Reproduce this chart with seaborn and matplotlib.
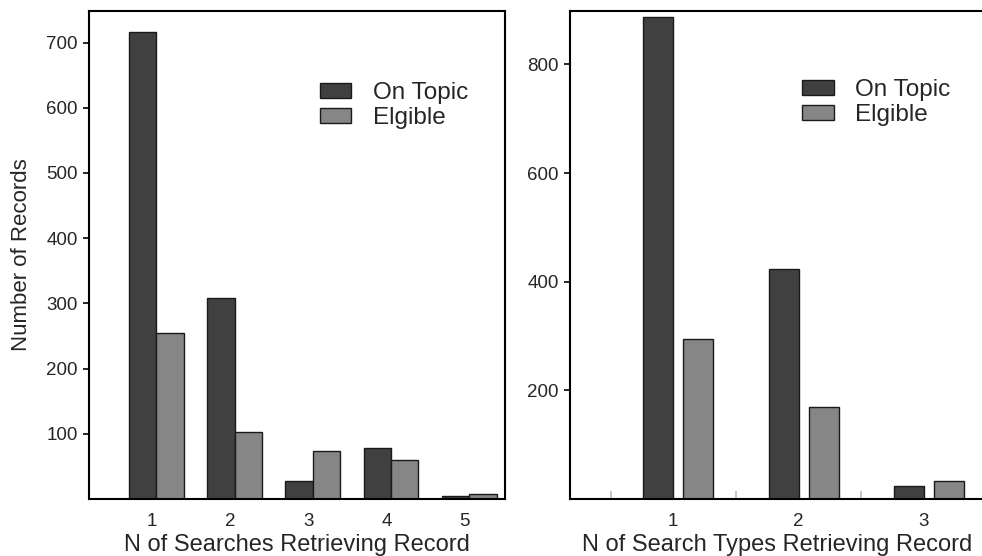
import matplotlib
matplotlib.use("Agg")
import matplotlib.pyplot as plt
import seaborn as sns
import pandas as pd

# ---- data ----
left_categories = ["1", "2", "3", "4", "5"]
left_on_topic = [716, 309, 28, 78, 5]
left_eligible = [255, 103, 74, 60, 8]

right_categories = ["1", "2", "3"]
right_on_topic = [888, 424, 24]
right_eligible = [294, 169, 33]

series_names = ["On Topic", "Elgible"]
left_yticks = [100, 200, 300, 400, 500, 600, 700]
right_yticks = [200, 400, 600, 800]
left_xlabel = "N of Searches Retrieving Record"
right_xlabel = "N of Search Types Retrieving Record"
ylabel = "Number of Records"

sns.set_style("white")
plt.rcParams["font.family"] = ["Liberation Sans", "DejaVu Sans"]

palette = {"On Topic": "#404040", "Elgible": "#868686"}
text_color = "#262626"


def make_df(cats, a, b):
    return pd.DataFrame({
        "cat": cats * 2,
        "value": a + b,
        "series": [series_names[0]] * len(cats) + [series_names[1]] * len(cats),
    })


fig = plt.figure(figsize=(9.82, 5.56), dpi=100)
axL = fig.add_axes([89 / 982, 57 / 556, 416 / 982, 488.4 / 556])
axR = fig.add_axes([570 / 982, 57 / 556, 415 / 982, 488.4 / 556])

sns.barplot(data=make_df(left_categories, left_on_topic, left_eligible),
            x="cat", y="value", hue="series", hue_order=series_names,
            palette=palette, width=0.70, gap=0, edgecolor="#1a1a1a",
            linewidth=1.0, saturation=1, ax=axL)
sns.barplot(data=make_df(right_categories, right_on_topic, right_eligible),
            x="cat", y="value", hue="series", hue_order=series_names,
            palette=palette, width=0.639, gap=0.25, edgecolor="#1a1a1a",
            linewidth=1.0, saturation=1, ax=axR)

axL.set_ylim(0, 749)
axL.set_xlim(-0.863, 4.458)
axR.set_ylim(0, 899)
axR.set_xlim(-0.865, 2.449)

axL.set_yticks(left_yticks)
axR.set_yticks(right_yticks)
axL.set_xticks([i - 0.06 for i in range(len(left_categories))])
axL.set_xticklabels(left_categories)
axR.set_xticks([i - 0.04 for i in range(len(right_categories))])
axR.set_xticklabels(right_categories)
axR.set_xticks([i - 0.54 for i in range(len(right_categories))], minor=True)

for ax in (axL, axR):
    for s in ax.spines.values():
        s.set_visible(True)
        s.set_color("black")
        s.set_linewidth(1.5)
    ax.tick_params(axis="y", which="major", direction="out", length=4,
                   width=1.2, color="black", labelsize=13.5, pad=4,
                   labelcolor=text_color, left=True)
    ax.tick_params(axis="x", which="major", length=0, labelsize=13.5, pad=10,
                   labelcolor=text_color)
    ax.set_ylabel("")
    old = ax.get_legend()
    handles = old.legend_handles
    labels = [t.get_text() for t in old.get_texts()]
    old.remove()
    ax._hl = (handles, labels)

axR.tick_params(axis="x", which="minor", direction="in", length=6, width=1.1,
                color="#b5b5b5", bottom=True)

axL.set_xlabel(left_xlabel, fontsize=17, color=text_color, labelpad=3)
axR.set_xlabel(right_xlabel, fontsize=17, color=text_color, labelpad=3)
axL.set_ylabel(ylabel, fontsize=16, color=text_color, labelpad=10)

for ax, anchor in ((axL, (0.555, 0.854)), (axR, (0.559, 0.86))):
    handles, labels = ax._hl
    leg = ax.legend(handles, labels, loc="upper left", bbox_to_anchor=anchor,
                    frameon=False, fontsize=17.5, handlelength=1.3,
                    handleheight=0.58, handletextpad=0.9, labelspacing=0.12,
                    borderpad=0, borderaxespad=0)
    for t in leg.get_texts():
        t.set_color(text_color)

fig.savefig("out.png", dpi=100)
